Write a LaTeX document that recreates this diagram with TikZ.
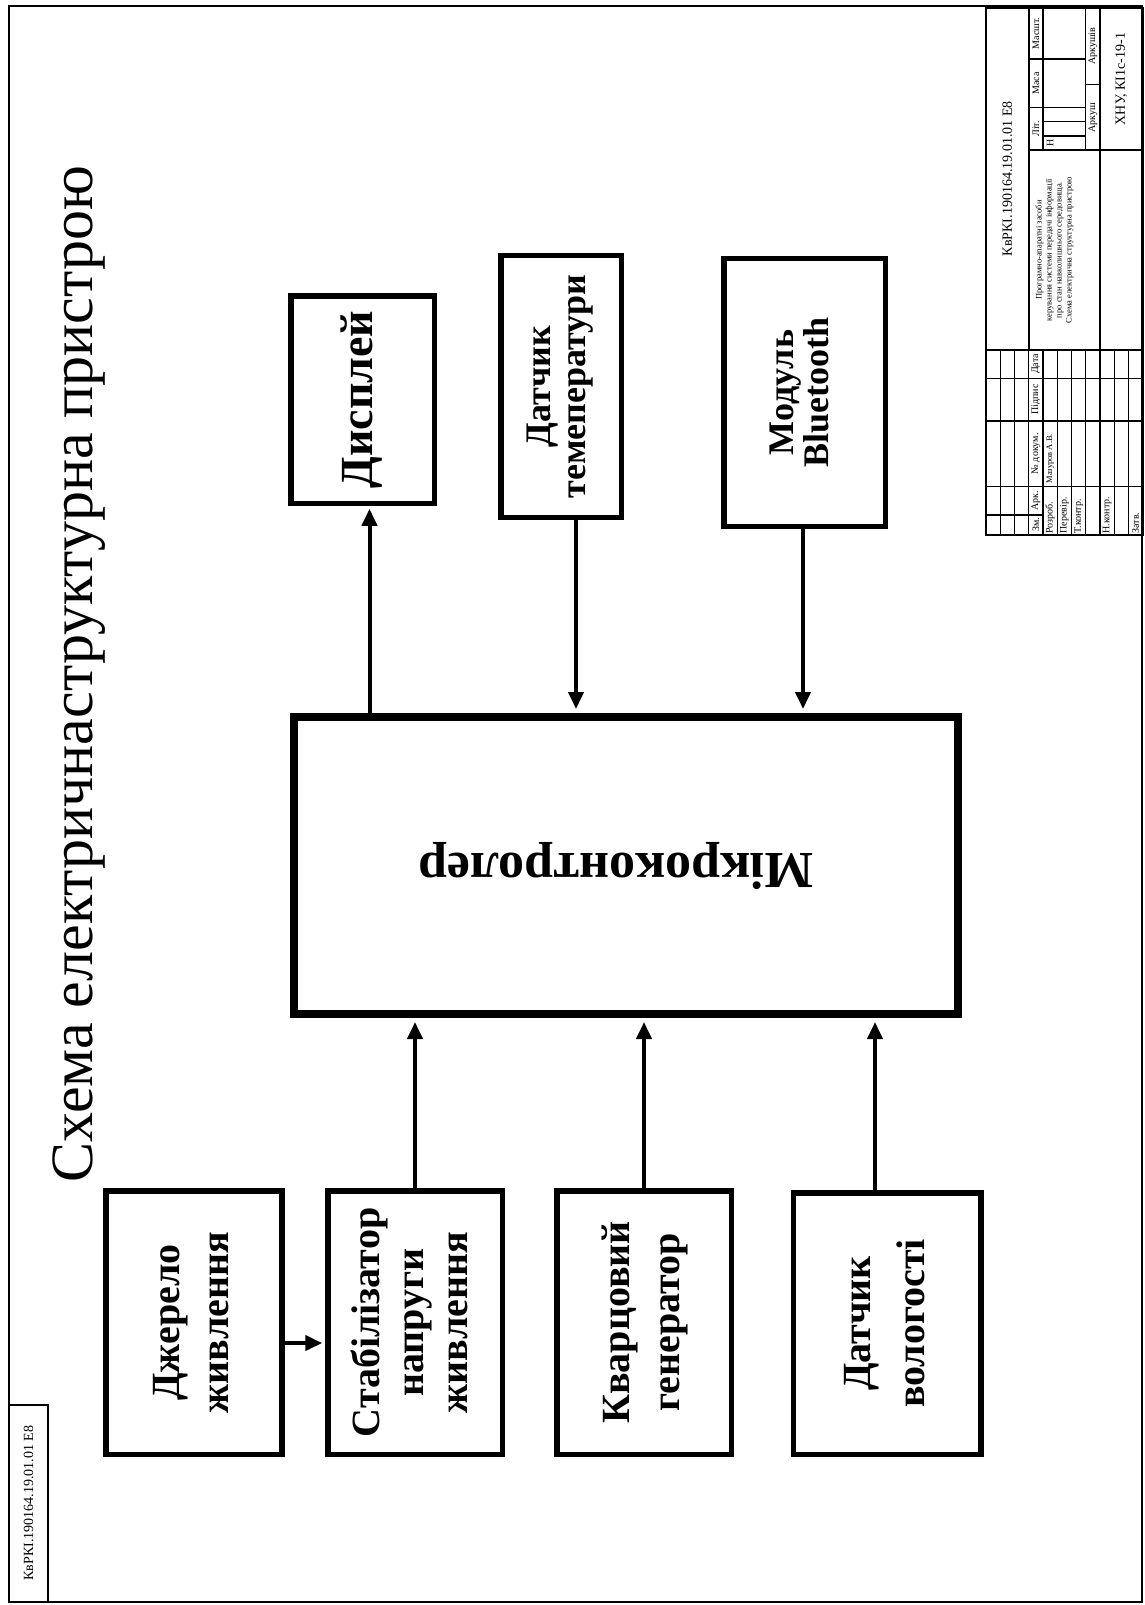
\documentclass[tikz,border=0pt]{standalone}
\usepackage{fontspec}
\setmainfont{Liberation Serif}
\usetikzlibrary{arrows.meta}
\newcommand\rtx[1]{\rotatebox{90}{\begin{tabular}{@{}c@{}}#1\end{tabular}}}
\begin{document}
\begin{tikzpicture}[x=1pt,y=-1pt,
  blk/.style={draw,line width=5.5pt,inner sep=0pt},
  conn/.style={line width=4pt},
  arr/.style={-{Triangle[length=17pt,width=15pt]}},
  frm/.style={line width=2pt},
  tbk/.style={line width=2pt},
  tbn/.style={line width=1.2pt},
  tlab/.style={rotate=90,inner sep=0pt,font=\fontsize{10}{11}\selectfont}
]
\useasboundingbox (0,0) rectangle (1144,1605);
\fill[white] (0,0) rectangle (1144,1605);
\draw[frm] (9,6) rectangle (1142,1602);
% stamp bottom-left
\draw[line width=2.5pt] (9,1405) rectangle (48,1602);
\node[rotate=90,font=\fontsize{14}{16}\selectfont] (stamp) at (28.5,1503) {КвРКІ.190164.19.01.01 Е8};
% title
\node[rotate=90,font=\fontsize{60}{66}\selectfont] (title) at (79,674) {Схема електричнаструктурна пристрою};

% bottom blocks
\node[blk,minimum width=176pt,minimum height=263.5pt,font=\bfseries\fontsize{40}{49}\selectfont] (dz) at (194,1322.5) {\rtx{Джерело\\живлення}};
\node[blk,minimum width=174.5pt,minimum height=263.5pt,font=\bfseries\fontsize{40}{44}\selectfont] (st) at (415,1322.5) {\rtx{Стабілізатор\\напруги\\живлення}};
\node[blk,minimum width=174.5pt,minimum height=263.5pt,font=\bfseries\fontsize{40}{50}\selectfont] (kv) at (644,1322.5) {\rtx{Кварцовий\\генератор}};
\node[blk,minimum width=187.5pt,minimum height=261.5pt,font=\bfseries\fontsize{40}{54}\selectfont] (vl) at (887,1323.5) {\rtx{Датчик\\вологості}};

% microcontroller
\node[draw,line width=8pt,minimum width=664pt,minimum height=297pt,inner sep=0pt,font=\bfseries\fontsize{52}{60}\selectfont] (mcu) at (626,865.5) {\hspace*{-20pt}\rotatebox{180}{Мікроконтролер}};

% top blocks
\node[blk,minimum width=143.5pt,minimum height=207.5pt,font=\bfseries\fontsize{46}{50}\selectfont] (ds) at (362.5,399.5) {\rtx{Дисплей}};
\node[blk,minimum width=120.5pt,minimum height=261.5pt,font=\bfseries\fontsize{36}{35}\selectfont] (dt) at (561,386.5) {\rtx{Датчик\\темеператури}};
\node[blk,minimum width=161.5pt,minimum height=267.5pt,font=\bfseries\fontsize{36}{34}\selectfont] (md) at (804.5,392.5) {\rtx{Модуль\\Bluetooth}};

% connectors
\coordinate (c1) at ([xshift=7pt]ds.south);
\draw[conn,arr,shorten >=2.75pt] (c1 |- mcu.north) -- (c1);
\coordinate (c2) at ([xshift=15pt]dt.south);
\draw[conn,arr,shorten >=4pt] (c2) -- (c2 |- mcu.north);
\coordinate (c3) at ([xshift=-1.5pt]md.south);
\draw[conn,arr,shorten >=4pt] (c3) -- (c3 |- mcu.north);
\draw[conn,arr,shorten >=4pt] (st.north) -- (st.north |- mcu.south);
\draw[conn,arr,shorten >=4pt] (kv.north) -- (kv.north |- mcu.south);
\coordinate (c4) at ([xshift=-12pt]vl.north);
\draw[conn,arr,shorten >=4pt] (c4) -- (c4 |- mcu.south);
\coordinate (c5) at ([yshift=-20.5pt]dz.east);
\draw[conn,arr,shorten >=2.75pt] (c5) -- (c5 -| st.west);

% title block
\begin{scope}[shift={(986,535)},x={(0pt,2.85pt)},y={(2.85pt,0pt)}]
 \draw[tbk] (0,0) rectangle (185,55);
 \draw[tbk] (65,0) -- (65,55);
 \foreach \rr in {5,10,...,50} \draw[tbn] (0,\rr) -- (65,\rr);
 \draw[tbn] (7,0) -- (7,20);
 \foreach \cc in {17,40,55} \draw[tbn] (\cc,0) -- (\cc,55);
 \draw[tbk] (65,15) -- (185,15);
 \draw[tbk] (65,40) -- (185,40);
 \draw[tbk] (135,15) -- (135,55);
 \draw[tbn] (135,20) -- (185,20);
 \draw[tbn] (135,35) -- (185,35);
 \draw[tbn] (150,15) -- (150,35);
 \draw[tbn] (167,15) -- (167,35);
 \draw[tbn] (140,20) -- (140,35);
 \draw[tbn] (145,20) -- (145,35);
 \draw[tbn] (158,35) -- (158,40);
 \node[tlab] (h1) at (3.5,17.5) {Зм.};
 \node[tlab] (h2) at (12,17.5) {Арк.};
 \node[tlab] (h3) at (28.5,17.5) {№ докум.};
 \node[tlab] (h4) at (47.5,17.5) {Підпис};
 \node[tlab] (h5) at (60,17.5) {Дата};
 \node[tlab,anchor=west] (r1) at (0.5,22.5) {Розроб.};
 \node[tlab,anchor=west,font=\fontsize{8.5}{10}\selectfont] (r1b) at (18,22.5) {Мазуров А.В.};
 \node[tlab,anchor=west] (r2) at (0.5,27.5) {Перевір.};
 \node[tlab,anchor=west] (r3) at (0.5,32.5) {Т.контр.};
 \node[tlab,anchor=west] (r4) at (0.5,42.5) {Н.контр.};
 \node[tlab,anchor=west] (r5) at (0.5,52.5) {Затв.};
 \node[tlab] (l1) at (142.5,17.5) {Літ.};
 \node[tlab] (l2) at (158.5,17.5) {Маса};
 \node[tlab] (l3) at (176,17.5) {Масшт.};
 \node[tlab] (l4) at (137.5,22.5) {Н};
 \node[tlab] (l5) at (146.5,37.5) {Аркуш};
 \node[tlab] (l6) at (171.5,37.5) {Аркушів};
 \node[tlab,font=\fontsize{14}{16}\selectfont] (dn) at (125,7.5) {КвРКІ.190164.19.01.01 Е8};
 \node[tlab,font=\fontsize{14}{16}\selectfont] (org) at (160,47.5) {ХНУ, КІ1с-19-1};
 \node[tlab,font=\fontsize{8.5}{10}\selectfont,align=center] (nm) at (100,24) {Програмно-апаратні засоби\\керування системи передачі інформації\\про стан навколишнього середовища.\\Схема електрична структурна пристрою};
\end{scope}
\end{tikzpicture}
\end{document}
